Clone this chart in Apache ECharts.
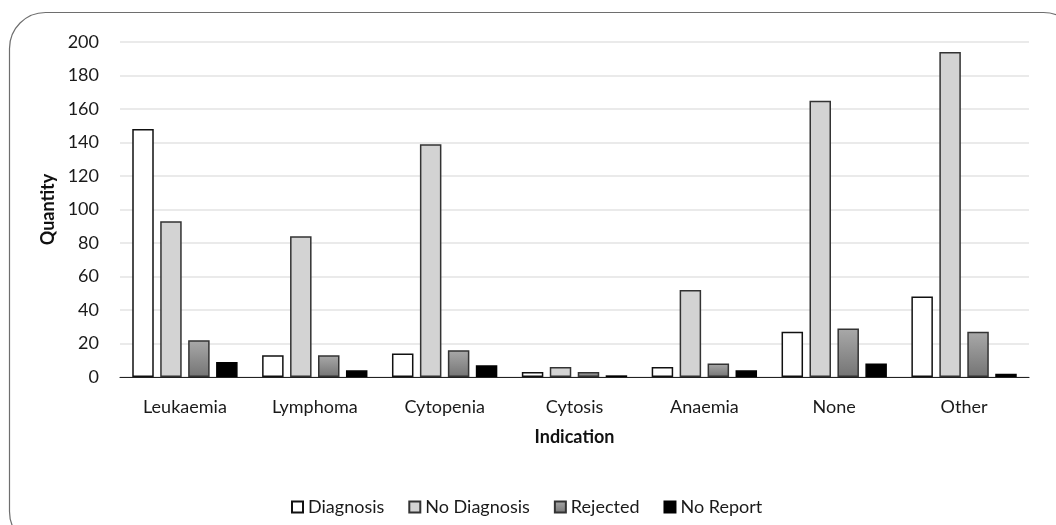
<!DOCTYPE html>
<html><head><meta charset="utf-8">
<script src="https://cdn.jsdelivr.net/npm/echarts@6/dist/echarts.min.js"></script>
<style>html,body{margin:0;padding:0;background:#fff}#c{width:1056px;height:525px}</style>
</head><body><div id="c"></div>
<script>
var categories = ['Leukaemia','Lymphoma','Cytopenia','Cytosis','Anaemia','None','Other'];
var seriesNames = ['Diagnosis','No Diagnosis','Rejected','No Report'];
var diagnosis   = [148, 13, 14, 3, 6, 27, 48];
var noDiagnosis = [93, 84, 139, 6, 52, 165, 194];
var rejected    = [22, 13, 16, 3, 8, 29, 27];
var noReport    = [9, 4, 7, 1, 4, 8, 2];
var yTicks = [0,20,40,60,80,100,120,140,160,180,200];

var FONT = 'Lato';
var FS = 18;
var chart = echarts.init(document.getElementById('c'));
var styles = [
  {color:'#ffffff', borderColor:'#111', borderWidth:1.5},
  {color:'#d3d3d3', borderColor:'#333', borderWidth:1.5},
  {color:new echarts.graphic.LinearGradient(0,0,0,1,[{offset:0,color:'#a9a9a9'},{offset:1,color:'#747474'}]), borderColor:'#333', borderWidth:1.5},
  {color:'#000000', borderColor:'#000', borderWidth:1.5}
];
var datas = [diagnosis, noDiagnosis, rejected, noReport];
chart.setOption({
  animation:false,
  textStyle:{fontFamily:FONT},
  graphic:[{type:'rect',shape:{x:9.5,y:12.5,width:1070,height:535,r:36},style:{fill:'none',stroke:'#6e6e6e',lineWidth:1.2},silent:true}],
  legend:{data:seriesNames,left:286,top:493,itemWidth:11,itemHeight:11,itemGap:24,icon:'rect',
    textStyle:{fontFamily:FONT,fontSize:FS,color:'#1a1a1a'}},
  grid:{left:120,right:27,top:42,bottom:148},
  xAxis:{type:'category',data:categories,name:'Indication',nameLocation:'middle',nameGap:51,
    nameTextStyle:{fontFamily:FONT,fontSize:FS,fontWeight:'bold',color:'#111'},
    axisLine:{lineStyle:{color:'#222',width:1.2}},axisTick:{show:false},
    axisLabel:{fontFamily:FONT,fontSize:FS,color:'#1a1a1a',margin:21}},
  yAxis:{type:'value',min:yTicks[0],max:yTicks[yTicks.length-1],interval:20,name:'Quantity',nameLocation:'middle',nameGap:58,
    nameTextStyle:{fontFamily:FONT,fontSize:FS,fontWeight:'bold',color:'#111'},
    axisLine:{show:false},axisTick:{show:false},
    axisLabel:{fontFamily:FONT,fontSize:FS,color:'#1a1a1a',margin:21},
    splitLine:{lineStyle:{color:'#e3e3e3',width:1.5}}},
  series:seriesNames.map(function(n,i){return {name:n,type:'bar',data:datas[i],barWidth:21.5,barGap:'30%',itemStyle:styles[i]};})
});
</script></body></html>
